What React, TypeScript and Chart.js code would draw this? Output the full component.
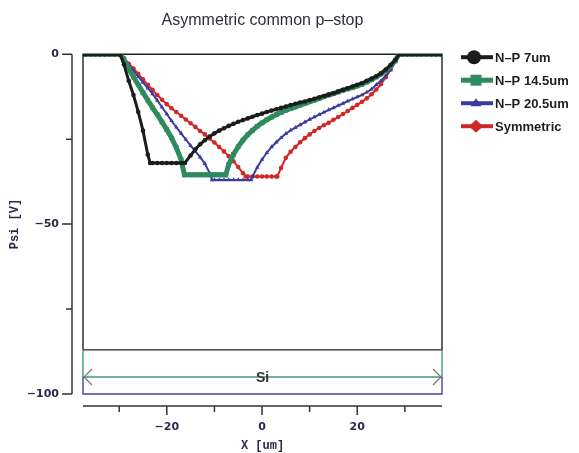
import React, { useEffect, useRef } from 'react';
import { Chart, registerables } from 'chart.js';

Chart.register(...registerables);

// ---------- data ----------
const titleText = 'Asymmetric common p–stop';
const seriesNames = ['N–P 7um', 'N–P 14.5um', 'N–P 20.5um', 'Symmetric'];
const seriesColors = ['#1c1c1c', '#2f8a5c', '#3c3c9e', '#d02828'];

// flat (undepleted) parts, psi = 0
const flatLeftX = [-37.6, -37, -36, -35, -34, -33, -32, -31, -30, -29.8];
const flatRightX = [28.8, 29.5, 30.5, 31.5, 32.5, 33.5, 34.5, 35.5, 36.5, 37.5, 37.8];
const flatPsi = 0;

const blackX = [-29, -28, -27, -26, -25, -24, -23.5, -23, -22, -21, -20, -19, -18, -17, -16.2, -15, -14, -13, -12, -11, -10, -9, -8, -7, -6, -5, -4, -3, -2, -1, 0, 1, 2, 3, 4, 5, 6, 7, 8, 9, 10, 11, 12, 13, 14, 15, 16, 17, 18, 19, 20, 21, 22, 23, 24, 25, 26, 27, 28];
const blackPsi = [-3, -7.8, -12, -17, -22.5, -29.5, -32, -32, -32, -32, -32, -32, -32, -32, -32, -29.8, -28, -26.5, -25.3, -24.2, -23.3, -22.5, -21.8, -21.1, -20.5, -19.9, -19.4, -18.9, -18.4, -17.9, -17.5, -17.0, -16.6, -16.2, -15.8, -15.4, -15.0, -14.6, -14.2, -13.9, -13.5, -13.1, -12.7, -12.3, -11.9, -11.5, -11.0, -10.5, -10.0, -9.5, -9.0, -8.5, -7.8, -7.2, -6.5, -5.6, -4.5, -3.2, -1.7];

const greenX = [-29, -28, -27, -26, -25, -24, -23, -22, -21, -20, -19, -18, -17, -16.3, -15, -14, -13, -12, -11, -10, -9, -8, -7.6, -7, -6, -5, -4, -3, -2, -1, 0, 1, 2, 3, 4, 5, 6, 7, 8, 9, 10, 11, 12, 13, 14, 15, 16, 17, 18, 19, 20, 21, 22, 23, 24, 25, 26, 27, 28];
const greenPsi = [-1.6, -4.2, -6.7, -9, -11.3, -13.5, -15.7, -17.8, -20, -22.2, -24.6, -27.5, -31, -35.5, -35.5, -35.5, -35.5, -35.5, -35.5, -35.5, -35.5, -35.5, -35.5, -32.5, -29.5, -27.2, -25.3, -23.7, -22.4, -21.2, -20.2, -19.3, -18.5, -17.8, -17.1, -16.5, -16.0, -15.5, -15.0, -14.5, -14.0, -13.5, -13.0, -12.5, -12.0, -11.6, -11.1, -10.6, -10.2, -9.8, -9.3, -8.8, -8.2, -7.5, -6.7, -5.8, -4.8, -3.5, -1.8];

const blueX = [-29, -28, -27, -26, -25, -24, -23, -22, -21, -20, -19, -18, -17, -16, -15, -14, -13, -12, -11, -10.5, -10, -9, -8, -7, -6, -5, -4, -3, -2.3, -2, -1, 0, 1, 2, 3, 4, 5, 6, 7, 8, 9, 10, 11, 12, 13, 14, 15, 16, 17, 18, 19, 20, 21, 22, 23, 24, 25, 26, 27, 28];
const bluePsi = [-1.2, -3.1, -4.9, -6.6, -8.3, -10, -11.7, -13.6, -15.6, -17.6, -19.6, -21.5, -23.3, -25.1, -26.9, -28.6, -30.3, -32.2, -35, -37, -37, -37, -37, -37, -37, -37, -37, -37, -37, -36, -33.3, -31, -29, -27.3, -25.9, -24.6, -23.4, -22.4, -21.6, -20.8, -20.0, -19.2, -18.5, -17.8, -17.1, -16.4, -15.8, -15.1, -14.5, -13.8, -13.2, -12.6, -12.0, -11.2, -10.3, -9.0, -7.8, -6.4, -4.6, -2.3];

const redX = [-29, -28, -27, -26, -25, -24, -23, -22, -21, -20, -19, -18, -17, -16, -15, -14, -13, -12, -11, -10, -9, -8, -7, -6, -5, -4, -3.4, -3, -2, -1, 0, 1, 2, 3, 3.2, 4, 5, 6, 7, 8, 9, 10, 11, 12, 13, 14, 15, 16, 17, 18, 19, 20, 21, 22, 23, 24, 25, 26, 27, 28];
const redPsi = [-1.2, -2.8, -4.2, -5.8, -7.4, -9.0, -10.5, -12.0, -13.4, -14.7, -15.9, -17.0, -18.1, -19.2, -20.3, -21.4, -22.6, -23.6, -24.8, -26.0, -27.3, -28.6, -30.0, -31.5, -33.2, -35.0, -36, -36, -36, -36, -36, -36, -36, -36, -36, -33.5, -30.5, -28.7, -27.3, -25.9, -24.7, -23.6, -22.6, -21.7, -20.9, -20.2, -19.3, -18.5, -17.6, -16.7, -15.8, -14.9, -14.0, -13.0, -11.8, -10.4, -8.8, -6.8, -4.5, -2.0];

// axes
const xMin = -37.6;
const xMax = 37.8;
const yMin = -100;
const yMax = 0;
const xTickStep = 10;
const xLabelStep = 20;
const yTickStep = 25;
const yLabelStep = 50;
const xTitle = 'X [um]';
const yTitle = 'Psi [V]';

// device structure levels (psi axis units)
const oxideBottom = -87;
const siMarker = -95;
const siLabel = 'Si';

// ---------- styling ----------
const lineWidths = [3, 5, 2, 2];
const pointStyles = ['circle', 'rect', 'triangle', 'circle'];
const pointRadii = [2.3, 3.3, 2.6, 2.3];
const axisColor = '#2a2a48';
const tickFont = { family: '"DejaVu Sans", Verdana, sans-serif', size: 11, weight: 'bold' as const };
const axisTitleFont = { family: '"Liberation Mono", "DejaVu Sans Mono", monospace', size: 12, weight: 'bold' as const };

function buildSeries(xs: number[], ys: number[]) {
  const pts: { x: number; y: number }[] = [];
  flatLeftX.forEach((x) => pts.push({ x, y: flatPsi }));
  xs.forEach((x, i) => pts.push({ x, y: ys[i] }));
  flatRightX.forEach((x) => pts.push({ x, y: flatPsi }));
  return pts;
}

const fmt = (v: number) => String(v).replace('-', '\u2212');

const decorPlugin = {
  id: 'decor',
  beforeDatasetsDraw(chart: any) {
    const { ctx } = chart;
    const xs = chart.scales.x;
    const ys = chart.scales.y;
    const L = xs.getPixelForValue(xMin);
    const R = xs.getPixelForValue(xMax);
    const yTop = ys.getPixelForValue(yMax);
    const yOx = ys.getPixelForValue(oxideBottom);
    const ySi = ys.getPixelForValue(siMarker);
    const yBot = ys.getPixelForValue(yMin);
    ctx.save();
    ctx.lineWidth = 1.4;
    // oxide region (black)
    ctx.strokeStyle = '#222';
    ctx.beginPath();
    ctx.moveTo(L, yOx);
    ctx.lineTo(L, yTop);
    ctx.lineTo(R, yTop);
    ctx.lineTo(R, yOx);
    ctx.lineTo(L, yOx);
    ctx.stroke();
    // Si region upper (green)
    ctx.strokeStyle = '#3f9a80';
    ctx.beginPath();
    ctx.moveTo(L, yOx);
    ctx.lineTo(L, ySi);
    ctx.moveTo(R, yOx);
    ctx.lineTo(R, ySi);
    ctx.moveTo(L, ySi);
    ctx.lineTo(R, ySi);
    ctx.stroke();
    // Si region lower (blue)
    ctx.strokeStyle = '#4a40a8';
    ctx.beginPath();
    ctx.moveTo(L, ySi);
    ctx.lineTo(L, yBot);
    ctx.lineTo(R, yBot);
    ctx.lineTo(R, ySi);
    ctx.stroke();
    // arrow heads
    ctx.strokeStyle = '#777';
    ctx.lineWidth = 1.2;
    ctx.beginPath();
    ctx.moveTo(L + 9, ySi - 8);
    ctx.lineTo(L + 1, ySi);
    ctx.lineTo(L + 9, ySi + 8);
    ctx.moveTo(R - 9, ySi - 8);
    ctx.lineTo(R - 1, ySi);
    ctx.lineTo(R - 9, ySi + 8);
    ctx.stroke();
    // Si label
    ctx.fillStyle = '#333';
    ctx.font = 'bold 14px "Liberation Sans", Arial, sans-serif';
    ctx.textAlign = 'center';
    ctx.textBaseline = 'middle';
    ctx.fillText(siLabel, (L + R) / 2, ySi + 1);

    // axis lines (offset from the plot box)
    ctx.strokeStyle = '#333';
    ctx.lineWidth = 1.5;
    const ax = L - 11;
    ctx.beginPath();
    ctx.moveTo(ax, yTop);
    ctx.lineTo(ax, yBot);
    ys.ticks.forEach((t: any) => {
      if (t.value % yTickStep !== 0) return;
      const p = ys.getPixelForValue(t.value);
      const len = t.value % yLabelStep === 0 ? 10 : 6;
      ctx.moveTo(ax, p);
      ctx.lineTo(ax - len, p);
    });
    ctx.stroke();
    const ay = yBot + 12;
    ctx.beginPath();
    ctx.moveTo(L, ay);
    ctx.lineTo(R, ay);
    xs.ticks.forEach((t: any) => {
      if (t.value % xTickStep !== 0) return;
      const p = xs.getPixelForValue(t.value);
      const len = t.value % xLabelStep === 0 ? 9 : 6;
      ctx.moveTo(p, ay);
      ctx.lineTo(p, ay + len);
    });
    ctx.stroke();
    ctx.restore();
  },
  afterDraw(chart: any) {
    const { ctx, chartArea } = chart;
    const x0 = chartArea.right + 19;
    const x1 = chartArea.right + 51;
    ctx.save();
    chart.data.datasets.forEach((ds: any, i: number) => {
      const y = chartArea.top + 3 + i * 23;
      const color = ds.borderColor;
      ctx.strokeStyle = color;
      ctx.fillStyle = color;
      ctx.lineWidth = i === 1 ? 5 : 4;
      ctx.beginPath();
      ctx.moveTo(x0, y);
      ctx.lineTo(x1, y);
      ctx.stroke();
      const mx = x0 + 15;
      ctx.beginPath();
      if (i === 0) {
        ctx.arc(mx - 2, y, 7, 0, Math.PI * 2);
      } else if (i === 1) {
        ctx.rect(mx - 5.5, y - 5.5, 11, 11);
      } else if (i === 2) {
        ctx.moveTo(mx, y - 5);
        ctx.lineTo(mx + 5.5, y + 3);
        ctx.lineTo(mx - 5.5, y + 3);
        ctx.closePath();
      } else {
        ctx.moveTo(mx, y - 6.5);
        ctx.lineTo(mx + 7, y);
        ctx.lineTo(mx, y + 6.5);
        ctx.lineTo(mx - 7, y);
        ctx.closePath();
      }
      ctx.fill();
      ctx.fillStyle = '#1e1e1e';
      ctx.font = 'bold 13px "Liberation Sans", Arial, sans-serif';
      ctx.textAlign = 'left';
      ctx.textBaseline = 'middle';
      ctx.fillText(ds.label, x1 + 2, y + 1);
    });
    ctx.restore();
  },
};

export default function App() {
  const canvasRef = useRef<HTMLCanvasElement | null>(null);

  useEffect(() => {
    const canvas = canvasRef.current;
    if (!canvas) return;
    const seriesX = [blackX, greenX, blueX, redX];
    const seriesPsi = [blackPsi, greenPsi, bluePsi, redPsi];
    const chart = new Chart(canvas, {
      type: 'line',
      data: {
        datasets: seriesNames.map((name, i) => ({
          label: name,
          data: buildSeries(seriesX[i], seriesPsi[i]),
          borderColor: seriesColors[i],
          backgroundColor: seriesColors[i],
          borderWidth: lineWidths[i],
          pointStyle: pointStyles[i] as any,
          pointRadius: pointRadii[i],
          pointBorderWidth: 0,
          tension: 0,
          fill: false,
        })),
      },
      options: {
        animation: false,
        responsive: false,
        layout: { padding: { top: 0, right: 137, bottom: 0, left: 0 } },
        plugins: {
          legend: { display: false },
          tooltip: { enabled: false },
          title: {
            display: true,
            text: titleText,
            fullSize: false,
            color: '#2e2e3a',
            font: { family: '"Liberation Sans", Arial, sans-serif', size: 16, weight: 'normal' },
            padding: { top: 11, bottom: 24 },
          },
        },
        scales: {
          x: {
            type: 'linear',
            min: xMin,
            max: xMax,
            grid: { display: false, drawTicks: false },
            border: { display: false },
            ticks: {
              stepSize: xTickStep,
              includeBounds: false,
              autoSkip: false,
              maxRotation: 0,
              padding: 27,
              color: axisColor,
              font: tickFont,
              callback: (v: any) => (Number(v) % xLabelStep === 0 ? fmt(Number(v)) : ''),
            },
            title: { display: true, text: xTitle, color: axisColor, font: axisTitleFont, padding: { top: 0, bottom: 0 } },
            afterFit: (s: any) => {
              s.height = 59;
            },
          },
          y: {
            type: 'linear',
            min: yMin,
            max: yMax,
            grid: { display: false, drawTicks: false },
            border: { display: false },
            ticks: {
              stepSize: yTickStep,
              autoSkip: false,
              padding: 24,
              color: axisColor,
              font: tickFont,
              callback: (v: any) => (Number(v) % yLabelStep === 0 ? fmt(Number(v)) : ''),
            },
            title: { display: true, text: yTitle, color: axisColor, font: axisTitleFont, padding: { top: 8, bottom: 0 } },
            afterFit: (s: any) => {
              s.width = 83;
            },
          },
        },
      },
      plugins: [decorPlugin],
    });
    return () => chart.destroy();
  }, []);

  return (
    <div style={{ position: 'absolute', left: 0, top: 0, width: 579, height: 453, background: '#fff' }}>
      <canvas ref={canvasRef} width={579} height={453} style={{ display: 'block' }} />
    </div>
  );
}
